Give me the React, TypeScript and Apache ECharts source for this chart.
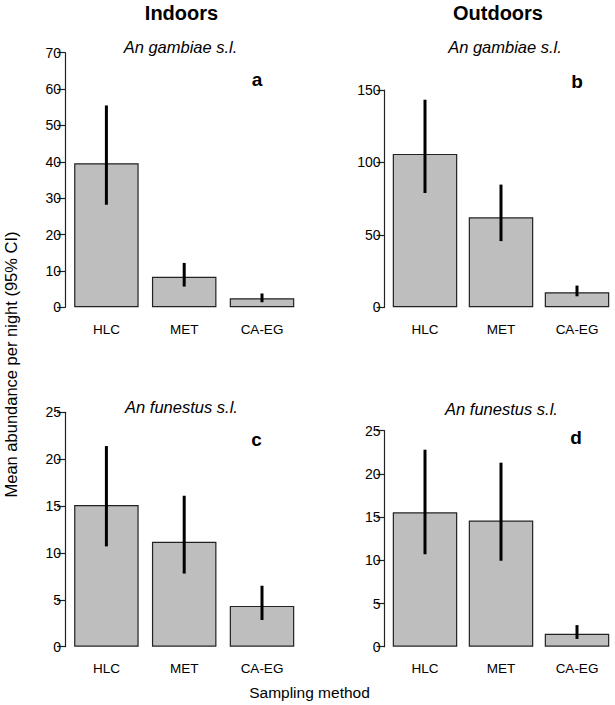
import React, { useEffect, useRef } from 'react';
import * as echarts from 'echarts';

const categories = ['HLC', 'MET', 'CA-EG'];

// Panel a: Indoors, An. gambiae s.l.
const aMean = [39.6, 8.4, 2.5];
const aLow = [28.2, 5.7, 1.4];
const aHigh = [55.5, 12.2, 3.8];
// Panel b: Outdoors, An. gambiae s.l.
const bMean = [105.9, 62.1, 10.4];
const bLow = [78.9, 45.7, 7.6];
const bHigh = [143.3, 84.7, 15.0];
// Panel c: Indoors, An. funestus s.l.
const cMean = [15.1, 11.2, 4.35];
const cLow = [10.7, 7.8, 2.85];
const cHigh = [21.4, 16.1, 6.5];
// Panel d: Outdoors, An. funestus s.l.
const dMean = [15.55, 14.6, 1.5];
const dLow = [10.7, 9.95, 0.9];
const dHigh = [22.8, 21.3, 2.5];

const yMax = [70, 150, 25, 25];
const yInterval = [10, 50, 5, 5];

const columnTitles = ['Indoors', 'Outdoors'];
const speciesTitles = ['An gambiae s.l.', 'An gambiae s.l.', 'An funestus s.l.', 'An funestus s.l.'];
const panelLetters = ['a', 'b', 'c', 'd'];
const yAxisTitle = 'Mean abundance per night (95% CI)';
const xAxisTitle = 'Sampling method';

const FONT = '"Liberation Sans", Arial, Helvetica, sans-serif';

export default function App() {
  const ref = useRef<HTMLDivElement>(null);

  useEffect(() => {
    if (!ref.current) return;
    const chart = echarts.init(ref.current, undefined, { renderer: 'svg' });

    const means = [aMean, bMean, cMean, dMean];
    const lows = [aLow, bLow, cLow, dLow];
    const highs = [aHigh, bHigh, cHigh, dHigh];

    const grids = [
      { left: 67.5, top: 52.7, width: 233.4, height: 254.6 },
      { left: 387, top: 90, width: 233.4, height: 217.3 },
      { left: 67.5, top: 412.3, width: 233.4, height: 234.4 },
      { left: 387, top: 430.7, width: 233.4, height: 216 },
    ];

    const xAxis = grids.map((_, i) => ({
      type: 'category',
      gridIndex: i,
      data: categories,
      boundaryGap: true,
      axisLine: { show: false },
      axisTick: { show: false },
      axisLabel: { color: '#000', fontSize: 13.5, fontFamily: FONT, margin: 15 },
    }));

    const yAxis = grids.map((_, i) => ({
      type: 'value',
      gridIndex: i,
      min: 0,
      max: yMax[i],
      interval: yInterval[i],
      offset: 2.5,
      splitLine: { show: false },
      axisLine: { show: true, lineStyle: { color: '#222', width: 1.2 } },
      axisTick: { show: true, length: 8, lineStyle: { color: '#222', width: 1.2 } },
      axisLabel: { color: '#000', fontSize: 14, fontFamily: FONT, margin: 4 },
    }));

    const series: any[] = [];
    grids.forEach((_, i) => {
      series.push({
        type: 'bar',
        xAxisIndex: i,
        yAxisIndex: i,
        data: means[i],
        barWidth: 64.5,
        itemStyle: { color: '#bebebe', borderColor: '#222', borderWidth: 1.2 },
        z: 2,
      });
      series.push({
        type: 'custom',
        xAxisIndex: i,
        yAxisIndex: i,
        z: 5,
        encode: { x: 0, y: [1, 2] },
        data: categories.map((_c, k) => [k, lows[i][k], highs[i][k]]),
        renderItem: (_params: any, api: any) => {
          const x = api.value(0);
          const p1 = api.coord([x, api.value(1)]);
          const p2 = api.coord([x, api.value(2)]);
          return {
            type: 'line',
            shape: { x1: p1[0], y1: p1[1], x2: p2[0], y2: p2[1] },
            style: { stroke: '#000', lineWidth: 3 },
          };
        },
      });
    });

    const txt = (text: string, x: number, y: number, font: string, extra: any = {}) => ({
      type: 'text',
      x,
      y,
      ...extra,
      style: { text, font, fill: '#000', align: 'center', verticalAlign: 'middle' },
    });

    const graphic: any[] = [
      txt(columnTitles[0], 181.5, 13, `bold 20px ${FONT}`),
      txt(columnTitles[1], 498, 13, `bold 20px ${FONT}`),
      txt(speciesTitles[0], 180.5, 47, `italic 16.5px ${FONT}`),
      txt(speciesTitles[1], 505, 47, `italic 16.5px ${FONT}`),
      txt(speciesTitles[2], 181.5, 407, `italic 16.5px ${FONT}`),
      txt(speciesTitles[3], 501.5, 409, `italic 16.5px ${FONT}`),
      txt(panelLetters[0], 257, 79.5, `bold 19px ${FONT}`),
      txt(panelLetters[1], 577, 81.5, `bold 19px ${FONT}`),
      txt(panelLetters[2], 256.5, 439.5, `bold 19px ${FONT}`),
      txt(panelLetters[3], 576, 437.5, `bold 19px ${FONT}`),
      txt(yAxisTitle, 11, 364.5, `16.5px ${FONT}`, { rotation: Math.PI / 2 }),
      txt(xAxisTitle, 309.5, 692, `15.5px ${FONT}`),
    ];

    chart.setOption({
      animation: false,
      backgroundColor: '#fff',
      grid: grids,
      xAxis,
      yAxis,
      series,
      graphic,
    } as any);

    return () => chart.dispose();
  }, []);

  return (
    <div
      ref={ref}
      style={{ position: 'fixed', left: 0, top: 0, width: 615, height: 705, background: '#fff' }}
    />
  );
}
